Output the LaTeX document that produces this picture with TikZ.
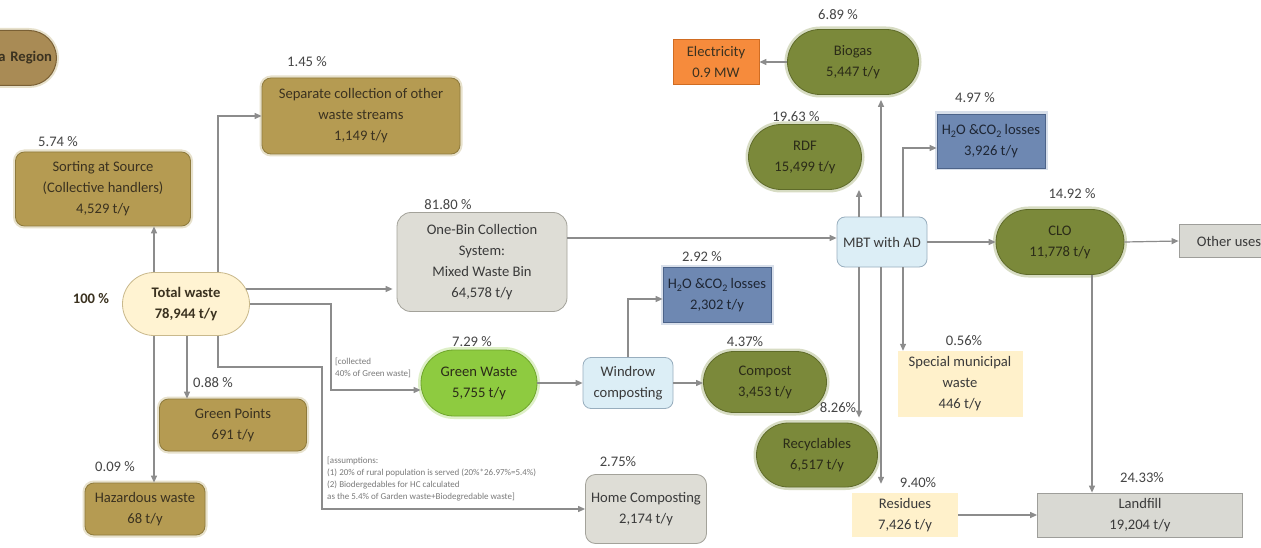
\documentclass[tikz,border=0pt]{standalone}
\usepackage{fontspec}
\setmainfont{Carlito}
\usetikzlibrary{shapes.misc,arrows.meta}
\definecolor{txt}{HTML}{3A3A3A}
\definecolor{pctc}{HTML}{454545}
\definecolor{notec}{HTML}{7A7A7A}
\definecolor{arrc}{HTML}{8C8C8C}
\definecolor{brownF}{HTML}{B59B52}
\definecolor{brownD}{HTML}{8E7A3C}
\definecolor{brownG}{HTML}{CBBE8E}
\definecolor{brownT}{HTML}{3B3220}
\definecolor{oliveF}{HTML}{7B893A}
\definecolor{oliveD}{HTML}{5F6B2A}
\definecolor{oliveG}{HTML}{A8B27A}
\definecolor{oliveT}{HTML}{2B2B18}
\definecolor{greenF}{HTML}{8ECB40}
\definecolor{greenD}{HTML}{6FA52C}
\definecolor{greenG}{HTML}{BFE290}
\definecolor{blueF}{HTML}{6E88B2}
\definecolor{blueD}{HTML}{4C6389}
\definecolor{blueG}{HTML}{A9B9D2}
\definecolor{blueT}{HTML}{1E2634}
\definecolor{orangeF}{HTML}{F68B3C}
\definecolor{orangeD}{HTML}{D06C22}
\definecolor{creamF}{HTML}{FFF1CB}
\definecolor{twF}{HTML}{FFF3D2}
\definecolor{twD}{HTML}{C9B98C}
\definecolor{grayF}{HTML}{DEDDD6}
\definecolor{grayD}{HTML}{A3A29A}
\definecolor{landF}{HTML}{D9D9D3}
\definecolor{landD}{HTML}{9E9E9A}
\definecolor{lblueF}{HTML}{DCEEF6}
\definecolor{lblueD}{HTML}{98AEBE}
\definecolor{regF}{HTML}{A98B55}
\definecolor{regD}{HTML}{7A6035}
\tikzset{
  base/.style={font=\fontsize{14.6}{21}\selectfont, align=center, inner sep=1pt},
  sized/.style n args={2}{minimum width=#1, minimum height=#2},
  brownbox/.style={base, rectangle, rounded corners=9pt, fill=brownF, draw=brownD, line width=0.8pt, text=brownT,
    preaction={draw=brownG, line width=5pt, opacity=0.45}},
  olivepill/.style={base, rounded rectangle, fill=oliveF, draw=oliveD, line width=0.8pt, text=oliveT,
    preaction={draw=oliveG, line width=6pt, opacity=0.45}},
  greenpill/.style={base, rounded rectangle, fill=greenF, draw=greenD, line width=0.8pt, text=oliveT,
    preaction={draw=greenG, line width=6pt, opacity=0.5}},
  bluebox/.style={base, rectangle, fill=blueF, draw=blueD, line width=0.8pt, text=blueT,
    preaction={draw=blueG, line width=5pt, opacity=0.45}},
  orangebox/.style={base, rectangle, fill=orangeF, draw=orangeD, line width=0.8pt, text=brownT},
  creambox/.style={base, rectangle, fill=creamF, text=txt},
  graybox/.style={base, rectangle, rounded corners=14pt, fill=grayF, draw=grayD, line width=0.8pt, text=txt},
  landbox/.style={base, rectangle, fill=landF, draw=landD, line width=0.8pt, text=txt},
  lbluebox/.style={base, rectangle, rounded corners=8pt, fill=lblueF, draw=lblueD, line width=0.8pt, text=txt},
  twpill/.style={base, rounded rectangle, fill=twF, draw=twD, line width=0.8pt, text=brownT, font=\fontsize{14.6}{21}\selectfont\bfseries},
  regpill/.style={base, rounded rectangle, fill=regF, draw=regD, line width=1pt, text=brownT, font=\fontsize{14.6}{21}\selectfont\bfseries,
    preaction={draw=brownG, line width=5pt, opacity=0.45}},
  pct/.style={font=\fontsize{14.6}{16}\selectfont, text=pctc, inner sep=0pt},
  note/.style={font=\fontsize{9}{12}\selectfont, text=notec, align=left, inner sep=0pt, anchor=north west},
  arr/.style={draw=arrc, line width=1.2pt, -{Triangle[length=7pt,width=6pt]}},
}
\newcommand{\hto}{H\raisebox{-3pt}{\fontsize{10}{10}\selectfont 2}O \&CO\raisebox{-3pt}{\fontsize{10}{10}\selectfont 2} losses}
\begin{document}
\begin{tikzpicture}[x=1pt,y=-1pt]
\fill[white] (0,0) rectangle (1261,548);
\useasboundingbox (0,0) rectangle (1261,548);

% nodes
\node[regpill, sized={115pt}{55pt}, text width=100pt, align=right, inner xsep=3pt, anchor=east] (region) at (57,58) {a Region};
\node[brownbox, sized={198pt}{76pt}] (sep) at (361,116) {Separate collection of other\\waste streams\\1,149 t/y};
\node[brownbox, sized={175pt}{74pt}] (sort) at (103,189) {Sorting at Source\\(Collective handlers)\\4,529 t/y};
\node[twpill, sized={129pt}{63pt}] (tw) at (186,304) {Total waste\\78,944 t/y};
\node[brownbox, sized={147pt}{52pt}] (gp) at (233,425) {Green Points\\691 t/y};
\node[brownbox, sized={120pt}{52pt}] (haz) at (145,509) {Hazardous waste\\68 t/y};
\node[graybox, sized={170pt}{99pt}] (onebin) at (482,262) {One-Bin Collection\\System:\\Mixed Waste Bin\\64,578 t/y};
\node[greenpill, sized={118pt}{66pt}] (gw) at (479,383) {Green Waste\\5,755 t/y};
\node[lbluebox, sized={90pt}{51pt}] (wind) at (628,383) {Windrow\\composting};
\node[olivepill, sized={125pt}{61pt}] (comp) at (765,382) {Compost\\3,453 t/y};
\node[bluebox, sized={108pt}{55pt}] (h2oa) at (717,295) {\hto\\2,302 t/y};
\node[graybox, rounded corners=10pt, sized={121pt}{69pt}] (home) at (646,509) {Home Composting\\2,174 t/y};
\node[orangebox, sized={86pt}{45pt}] (elec) at (716,62) {Electricity\\0.9 MW};
\node[olivepill, sized={133pt}{65pt}] (biogas) at (853,62) {Biogas\\5,447 t/y};
\node[olivepill, sized={115pt}{65pt}] (rdf) at (805,157) {RDF\\15,499 t/y};
\node[bluebox, sized={108pt}{54pt}] (h2ob) at (991,141) {\hto\\3,926 t/y};
\node[lbluebox, sized={90pt}{50pt}] (mbt) at (882,242) {MBT with AD};
\node[olivepill, sized={130pt}{65pt}] (clo) at (1060,242) {CLO\\11,778 t/y};
\node[landbox, sized={100pt}{33pt}] (other) at (1229,241) {Other uses};
\node[creambox, sized={125pt}{66pt}] (special) at (960,384) {Special municipal\\waste\\446 t/y};
\node[olivepill, sized={123pt}{64pt}] (recyc) at (817,455) {Recyclables\\6,517 t/y};
\node[creambox, sized={106pt}{44pt}] (resid) at (905,515) {Residues\\7,426 t/y};
\node[landbox, sized={205pt}{44pt}] (land) at (1140,515) {Landfill\\19,204 t/y};

% percentages
\node[pct] (p1) at (307,62) {1.45 \%};
\node[pct] (p2) at (58,142) {5.74 \%};
\node[pct, font=\fontsize{14.6}{16}\selectfont\bfseries, text=brownT] (p3) at (91,299) {100 \%};
\node[pct] (p4) at (213,383) {0.88 \%};
\node[pct] (p5) at (115,467) {0.09 \%};
\node[pct] (p6) at (448,205) {81.80 \%};
\node[pct] (p7) at (702,257) {2.92 \%};
\node[pct] (p8) at (472,342) {7.29 \%};
\node[pct] (p9) at (745,342) {4.37\%};
\node[pct] (p10) at (618,462) {2.75\%};
\node[pct] (p11) at (838,15) {6.89 \%};
\node[pct] (p12) at (796,117) {19.63 \%};
\node[pct] (p13) at (975,98) {4.97 \%};
\node[pct] (p14) at (1072,194) {14.92 \%};
\node[pct] (p15) at (964,341) {0.56\%};
\node[pct] (p16) at (838,408) {8.26\%};
\node[pct] (p17) at (918,483) {9.40\%};
\node[pct] (p18) at (1142,478) {24.33\%};

% notes
\node[note] (n1) at (335,358) {[collected\\40\% of Green waste]};
\node[note] (n2) at (327,457) {[assumptions:\\(1) 20\% of rural population is served (20\%*26.97\%=5.4\%)\\(2) Biodergedables for HC calculated\\as the 5.4\% of Garden waste+Biodegredable waste]};

% connectors
\draw[arr] ([xshift=-32pt]tw.north) -- ([xshift=-32pt]tw.north |- sort.south);
\draw[arr] ([xshift=32pt]tw.north) |- (sep.west);
\draw[arr] ([xshift=-4pt,yshift=15pt]tw.east) -- ([xshift=-4pt,yshift=15pt]tw.east -| onebin.west);
\draw[arr] (tw.east) -- ++(81,0) |- ([yshift=-7pt]gw.west);
\draw[arr] ([xshift=1pt]tw.south) -- ([xshift=1pt]tw.south |- gp.north);
\draw[arr] ([xshift=-32pt]tw.south) -- ([xshift=-32pt]tw.south |- haz.north);
\draw[arr] ([xshift=32pt]tw.south) -- ++(0,31) -- ++(104,0) |- (home.west);
\draw[arr] ([yshift=24pt]onebin.east) -- ([yshift=24pt]onebin.east -| mbt.west);
\draw[arr] (gw.east) -- (wind.west);
\draw[arr] (wind.east) -- (wind.east -| comp.west);
\draw[arr] (wind.north) |- ([yshift=-4pt]h2oa.west);
\draw[arr] ([xshift=-23pt]mbt.north) -- ([xshift=-23pt]mbt.north |- rdf.south);
\draw[arr] ([xshift=-1pt]mbt.north) -- ([xshift=-1pt,yshift=-5pt]mbt.north |- biogas.south);
\draw[arr] ([xshift=21pt]mbt.north) |- ([yshift=-7pt]h2ob.west);
\draw[arr] (biogas.west) -- (elec.east);
\draw[arr] (mbt.east) -- (clo.west);
\draw[arr] (clo.east) -- (other.west);
\draw[arr] ([xshift=32pt]clo.south) -- ([xshift=32pt]clo.south |- land.north);
\draw[arr] ([xshift=-23pt]mbt.south) -- ([xshift=-23pt,yshift=5pt]mbt.south |- recyc.north);
\draw[arr] ([xshift=-1pt]mbt.south) -- ([xshift=-1pt,yshift=9pt]mbt.south |- resid.north);
\draw[arr] ([xshift=21pt]mbt.south) -- ([xshift=21pt]mbt.south |- special.north);
\draw[arr] (resid.east) -- (land.west);
\end{tikzpicture}
\end{document}
